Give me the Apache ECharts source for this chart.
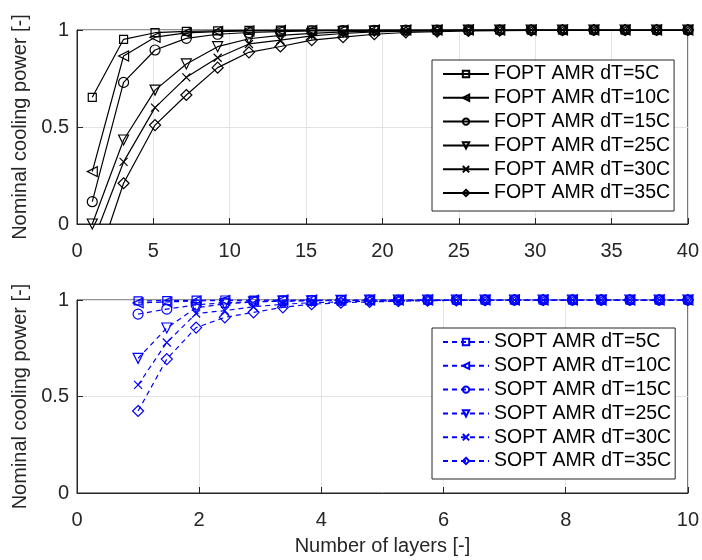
<!DOCTYPE html>
<html>
<head>
<meta charset="utf-8">
<script src="https://cdn.jsdelivr.net/npm/echarts@6/dist/echarts.min.js"></script>
<style>html,body{margin:0;padding:0;background:#fff}#c{width:702px;height:560px}</style>
</head>
<body>
<div id="c"></div>
<script>
// ---- data ----
var xTop = [1, 3.05, 5.11, 7.16, 9.21, 11.26, 13.32, 15.37, 17.42, 19.47, 21.53, 23.58, 25.63, 27.68, 29.74, 31.79, 33.84, 35.89, 37.95, 40];
var xBot = [1, 1.47, 1.95, 2.42, 2.89, 3.37, 3.84, 4.32, 4.79, 5.26, 5.74, 6.21, 6.68, 7.16, 7.63, 8.11, 8.58, 9.05, 9.53, 10];

var fopt5  = [0.653, 0.952, 0.986, 0.993, 0.996, 0.998, 0.999, 1, 1, 1, 1, 1, 1, 1, 1, 1, 1, 1, 1, 1];
var fopt10 = [0.27, 0.866, 0.963, 0.985, 0.992, 0.995, 0.997, 0.998, 0.999, 1, 1, 1, 1, 1, 1, 1, 1, 1, 1, 1];
var fopt15 = [0.115, 0.73, 0.897, 0.957, 0.978, 0.987, 0.992, 0.995, 0.997, 0.998, 0.999, 1, 1, 1, 1, 1, 1, 1, 1, 1];
var fopt25 = [0.0, 0.433, 0.69, 0.825, 0.914, 0.955, 0.972, 0.983, 0.99, 0.994, 0.996, 0.998, 0.999, 1, 1, 1, 1, 1, 1, 1];
var fopt30 = [-0.10, 0.32, 0.60, 0.756, 0.857, 0.928, 0.948, 0.97, 0.982, 0.99, 0.994, 0.996, 0.998, 0.999, 1, 1, 1, 1, 1, 1];
var fopt35 = [-0.27, 0.21, 0.51, 0.665, 0.806, 0.885, 0.915, 0.948, 0.963, 0.978, 0.987, 0.992, 0.995, 0.997, 0.998, 0.999, 1, 1, 1, 1];

var sopt5  = [0.995, 0.997, 0.999, 1, 1, 1, 1, 1, 1, 1, 1, 1, 1, 1, 1, 1, 1, 1, 1, 1];
var sopt10 = [0.985, 0.99, 0.995, 0.998, 0.999, 1, 1, 1, 1, 1, 1, 1, 1, 1, 1, 1, 1, 1, 1, 1];
var sopt15 = [0.927, 0.953, 0.975, 0.986, 0.992, 0.995, 0.997, 0.998, 0.999, 1, 1, 1, 1, 1, 1, 1, 1, 1, 1, 1];
var sopt25 = [0.698, 0.855, 0.96, 0.98, 0.99, 0.994, 0.996, 0.998, 0.999, 1, 1, 1, 1, 1, 1, 1, 1, 1, 1, 1];
var sopt30 = [0.56, 0.78, 0.93, 0.945, 0.965, 0.978, 0.986, 0.99, 0.994, 0.996, 0.998, 0.999, 1, 1, 1, 1, 1, 1, 1, 1];
var sopt35 = [0.425, 0.694, 0.857, 0.91, 0.936, 0.962, 0.978, 0.986, 0.99, 0.994, 0.996, 0.998, 0.999, 1, 1, 1, 1, 1, 1, 1];

var dTs = ['5C', '10C', '15C', '25C', '30C', '35C'];
var foptNames = dTs.map(function (d) { return 'FOPT AMR dT=' + d; });
var soptNames = dTs.map(function (d) { return 'SOPT AMR dT=' + d; });
var topTicks = { min: 0, max: 40, interval: 5 };
var botTicks = { min: 0, max: 10, interval: 2 };
var yTicks = { min: 0, max: 1, interval: 0.5 };

// ---- styling ----
var FONT = '"Liberation Sans", Arial, sans-serif';
var AX = '#262626';
var symbols = [
  'rect',
  'path://M0,5L10,0L10,10Z',
  'circle',
  'path://M0,0L10,0L5,10Z',
  'path://M0,0L10,10M10,0L0,10',
  'diamond'
];
var sizes = [8, 10, 10, 10, 8, 11];

function pairs(xs, ys) { return xs.map(function (x, i) { return [x, ys[i]]; }); }

function mkSeries(name, xs, ys, idx, k, color, dashed) {
  return {
    type: 'line', name: name, xAxisIndex: idx, yAxisIndex: idx,
    data: pairs(xs, ys), clip: true,
    symbol: symbols[k], symbolSize: sizes[k], showAllSymbol: true,
    lineStyle: { color: color, width: 1.2, type: dashed ? [5, 4] : 'solid' },
    itemStyle: { color: 'rgba(255,255,255,0)', borderColor: color, borderWidth: 1.2 },
    emphasis: { disabled: true },
    animation: false, z: 3 + k
  };
}

var fData = [fopt5, fopt10, fopt15, fopt25, fopt30, fopt35];
var sData = [sopt5, sopt10, sopt15, sopt25, sopt30, sopt35];
var series = [];
fData.forEach(function (d, k) { series.push(mkSeries(foptNames[k], xTop, d, 0, k, '#000000', false)); });
sData.forEach(function (d, k) { series.push(mkSeries(soptNames[k], xBot, d, 1, k, '#0000ff', true)); });

function xAx(idx, t, name) {
  return {
    type: 'value', gridIndex: idx, min: t.min, max: t.max, interval: t.interval,
    name: name, nameLocation: 'middle', nameGap: 43,
    nameTextStyle: { fontFamily: FONT, fontSize: 20, color: AX },
    axisLine: { show: true, onZero: false, lineStyle: { color: AX, width: 1 } },
    axisTick: { show: true, inside: true, length: 6, lineStyle: { color: AX } },
    axisLabel: { fontFamily: FONT, fontSize: 20, color: AX, margin: 17 },
    splitLine: { show: true, lineStyle: { color: '#e3e3e3', width: 1 } }
  };
}
function yAx(idx) {
  return {
    type: 'value', gridIndex: idx, min: yTicks.min, max: yTicks.max, interval: yTicks.interval,
    name: 'Nominal cooling power [-]', nameLocation: 'middle', nameGap: 38,
    nameTextStyle: { fontFamily: FONT, fontSize: 20, color: AX },
    axisLine: { show: true, onZero: false, lineStyle: { color: AX, width: 1 } },
    axisTick: { show: true, inside: true, length: 6, lineStyle: { color: AX } },
    axisLabel: { fontFamily: FONT, fontSize: 20, color: AX, margin: 8 },
    splitLine: { show: true, lineStyle: { color: '#e3e3e3', width: 1 } }
  };
}

function legend(names, top) {
  return {
    orient: 'vertical', left: 432, top: top,
    data: names,
    itemWidth: 46, itemHeight: 8, itemGap: 3.8,
    padding: [4, 4, 8, 10],
    backgroundColor: '#ffffff', borderColor: AX, borderWidth: 1,
    textStyle: { fontFamily: FONT, fontSize: 19.5, color: '#000', lineHeight: 20, padding: [0, 0, 0, 0] },
    selectedMode: false
  };
}

var chart = echarts.init(document.getElementById('c'), null, { renderer: 'canvas' });
chart.setOption({
  animation: false,
  backgroundColor: '#ffffff',
  grid: [
    { left: 77, right: 13, top: 30, height: 194, show: true, borderColor: AX, borderWidth: 1, backgroundColor: 'transparent' },
    { left: 77, right: 13, top: 300, height: 193, show: true, borderColor: AX, borderWidth: 1, backgroundColor: 'transparent' }
  ],
  xAxis: [xAx(0, topTicks, ''), xAx(1, botTicks, 'Number of layers [-]')],
  yAxis: [yAx(0), yAx(1)],
  legend: [legend(foptNames, 60), legend(soptNames, 328)],
  series: series
});
</script>
</body>
</html>
